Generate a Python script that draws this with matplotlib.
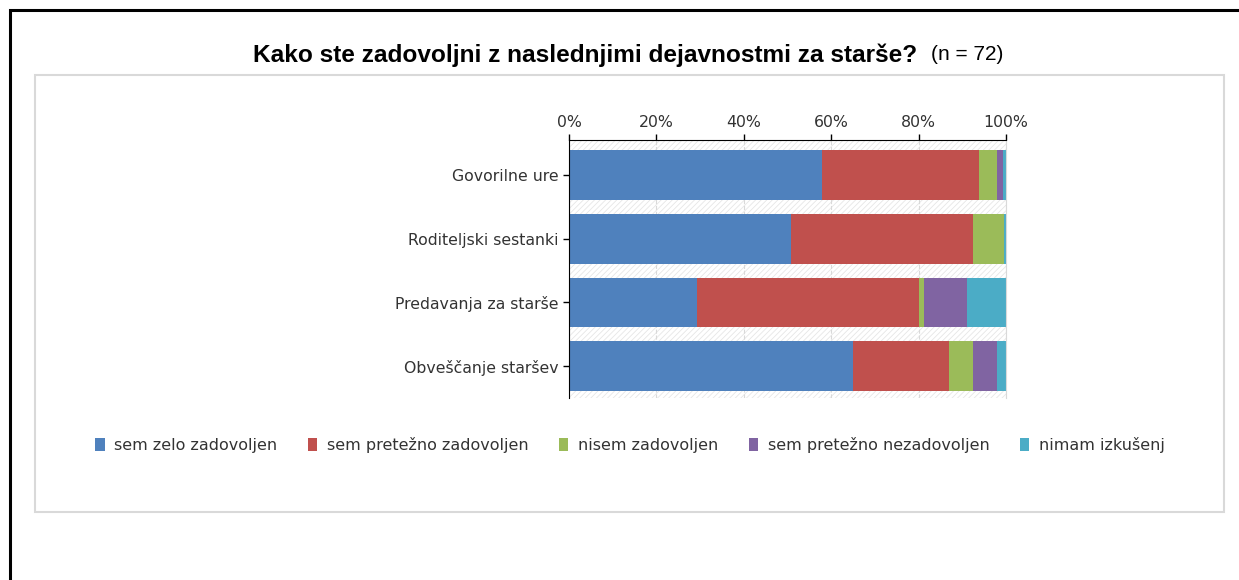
import numpy as np
import matplotlib
matplotlib.use("Agg")
import matplotlib.pyplot as plt
from matplotlib.patches import Rectangle

# podatki (delež v %)
kategorije = ['Govorilne ure', 'Roditeljski sestanki', 'Predavanja za starše', 'Obveščanje staršev']
odgovori = ['sem zelo zadovoljen', 'sem pretežno zadovoljen', 'nisem zadovoljen',
            'sem pretežno nezadovoljen', 'nimam izkušenj']
zelo_zadovoljen = [57.8, 50.9, 29.2, 64.9]
pretezno_zadovoljen = [36.1, 41.6, 50.8, 22.1]
nisem_zadovoljen = [4.1, 7.0, 1.3, 5.5]
pretezno_nezadovoljen = [1.4, 0.0, 9.7, 5.5]
nimam_izkusenj = [0.6, 0.5, 9.0, 2.0]
barve = ['#4F81BD', '#C0504D', '#9BBB59', '#8064A2', '#4BACC6']

serije = [zelo_zadovoljen, pretezno_zadovoljen, nisem_zadovoljen,
          pretezno_nezadovoljen, nimam_izkusenj]

plt.rcParams['hatch.linewidth'] = 0.6

W, H = 1239, 580
fig = plt.figure(figsize=(W / 100, H / 100), dpi=100)

# okvirji
fig.add_artist(Rectangle((10 / W, 0 - 0.05), (1250 - 10) / W, (H - 10) / H + 0.05,
                         transform=fig.transFigure, fill=False, edgecolor='black', linewidth=2.2))
fig.add_artist(Rectangle((35 / W, 1 - 512 / H), (1224 - 35) / W, (512 - 75) / H,
                         transform=fig.transFigure, fill=False, edgecolor='#d9d9d9', linewidth=1.5))

# naslov
fig.text(253 / W, 1 - 55 / H, 'Kako ste zadovoljni z naslednjimi dejavnostmi za starše?',
         fontsize=17.6, fontweight='bold', family='Liberation Sans', ha='left', va='center')
fig.text(931 / W, 1 - 55 / H, '(n = 72)', fontsize=15, family='Liberation Sans',
         ha='left', va='center')

ax = fig.add_axes([569 / W, 1 - 398 / H, (1006 - 569) / W, (398 - 140) / H])
y = np.arange(len(kategorije))

# šrafirano ozadje
ax.add_patch(Rectangle((0, 0), 1, 1, transform=ax.transAxes, facecolor='white',
                       edgecolor='#e6e6e6', hatch='//////', linewidth=0, zorder=0))

levo = np.zeros(len(kategorije))
for vals, ime, c in zip(serije, odgovori, barve):
    ax.barh(y, vals, left=levo, height=0.78, color=c, label=ime, zorder=2)
    levo += np.array(vals)

ax.set_xlim(0, 100)
ax.set_ylim(3.5, -0.55)
ax.set_yticks(y)
ax.set_yticklabels(kategorije)
ax.set_xticks(np.arange(0, 101, 20))
ax.set_xticklabels([f'{v}%' for v in range(0, 101, 20)])
ax.xaxis.tick_top()
ax.tick_params(axis='both', labelsize=11.3, colors='black', labelcolor='#333333',
               length=4, width=1, direction='out')
ax.grid(axis='x', color='#d9d9d9', linestyle='--', linewidth=0.8, zorder=1)
ax.set_axisbelow(True)
ax.spines['bottom'].set_visible(False)
ax.spines['right'].set_color('#d9d9d9')
ax.spines['top'].set_color('black')
ax.spines['left'].set_color('black')

fig.legend(loc='center', bbox_to_anchor=(630 / W, 1 - 445 / H), ncol=5, frameon=False,
           fontsize=11.5, handlelength=0.6, handleheight=0.9, handletextpad=0.6,
           columnspacing=1.9, labelcolor='#333333')

fig.savefig('out.png', dpi=100)
